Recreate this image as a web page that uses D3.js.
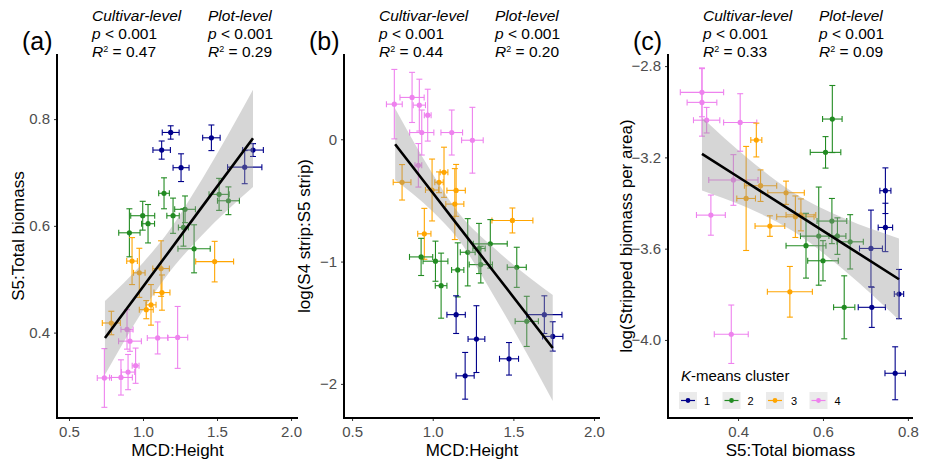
<!DOCTYPE html>
<html>
<head>
<meta charset="utf-8">
<script src="https://cdn.jsdelivr.net/npm/d3@7"></script>
<style>
  body { margin: 0; background: #fff; }
  svg { font-family: "Liberation Sans", Arial, sans-serif; }
</style>
</head>
<body>
<svg id="chart" width="931" height="460"></svg>
<script>
// cluster colours (K-means cluster 1..4)
var clusterColors = ["#00008B", "#228B22", "#FFA500", "#EE82EE"];
var clusterLabels = ["1", "2", "3", "4"];

// points: [cluster, x, xErr, y, yErr]
var pointsA = [
	[1, 1.187, 0.057, 0.775, 0.0125], [1, 1.462, 0.059, 0.765, 0.024], [1, 1.126, 0.059, 0.742, 0.017],
	[1, 1.257, 0.054, 0.709, 0.026], [1, 1.743, 0.070, 0.742, 0.012], [1, 1.687, 0.116, 0.710, 0.031],
	[2, 1.142, 0.036, 0.661, 0.029], [2, 0.908, 0.072, 0.587, 0.045], [2, 0.998, 0.081, 0.619, 0.027],
	[2, 1.034, 0.044, 0.604, 0.036], [2, 1.203, 0.042, 0.619, 0.033], [2, 1.284, 0.070, 0.631, 0.025],
	[2, 1.273, 0.034, 0.597, 0.035], [2, 1.345, 0.109, 0.557, 0.045], [2, 1.514, 0.068, 0.659, 0.030],
	[2, 1.577, 0.074, 0.647, 0.026],
	[3, 0.926, 0.036, 0.534, 0.044], [3, 0.975, 0.039, 0.512, 0.046], [3, 1.122, 0.056, 0.520, 0.052],
	[3, 1.128, 0.054, 0.475, 0.033], [3, 1.054, 0.034, 0.452, 0.038], [3, 1.022, 0.047, 0.443, 0.017],
	[3, 1.484, 0.128, 0.533, 0.038], [3, 0.786, 0.061, 0.418, 0.022],
	[4, 0.892, 0.041, 0.406, 0.037], [4, 0.912, 0.077, 0.384, 0.019], [4, 1.099, 0.070, 0.390, 0.030],
	[4, 1.234, 0.068, 0.391, 0.058], [4, 0.950, 0.023, 0.338, 0.033], [4, 0.899, 0.045, 0.326, 0.033],
	[4, 0.851, 0.077, 0.316, 0.033], [4, 0.739, 0.048, 0.315, 0.055]
];
var pointsB = [
	[4, 0.762, 0.049, 0.287, 0.284], [4, 0.872, 0.075, 0.342, 0.205], [4, 0.917, 0.038, 0.279, 0.212],
	[4, 0.969, 0.021, 0.197, 0.212], [4, 0.932, 0.075, 0.055, 0.184], [4, 1.118, 0.067, 0.055, 0.184],
	[4, 1.246, 0.067, -0.008, 0.269], [4, 0.911, 0.021, -0.213, 0.178],
	[3, 0.810, 0.055, -0.352, 0.145], [3, 1.039, 0.026, -0.352, 0.085], [3, 1.070, 0.024, -0.270, 0.205],
	[3, 0.996, 0.041, -0.415, 0.253], [3, 1.145, 0.057, -0.418, 0.212], [3, 1.137, 0.056, -0.530, 0.290],
	[3, 0.948, 0.041, -0.773, 0.208], [3, 1.494, 0.127, -0.664, 0.102],
	[2, 0.928, 0.072, -0.962, 0.152], [2, 1.017, 0.077, -0.997, 0.164], [2, 1.052, 0.036, -1.197, 0.266],
	[2, 1.155, 0.038, -1.068, 0.221], [2, 1.217, 0.046, -0.924, 0.275], [2, 1.287, 0.038, -0.893, 0.205],
	[2, 1.298, 0.072, -1.025, 0.150], [2, 1.357, 0.105, -0.855, 0.198], [2, 1.521, 0.059, -1.047, 0.164],
	[2, 1.583, 0.072, -1.489, 0.205],
	[1, 1.145, 0.057, -1.434, 0.154], [1, 1.271, 0.052, -1.634, 0.273], [1, 1.201, 0.056, -1.934, 0.191],
	[1, 1.473, 0.059, -1.795, 0.133], [1, 1.692, 0.109, -1.434, 0.154], [1, 1.744, 0.063, -1.612, 0.120]
];
var pointsC = [
	[4, 0.315, 0.051, -2.915, 0.107], [4, 0.315, 0.035, -2.959, 0.148], [4, 0.326, 0.031, -3.037, 0.056],
	[4, 0.405, 0.039, -3.047, 0.126], [4, 0.389, 0.058, -3.299, 0.111], [4, 0.336, 0.034, -3.453, 0.088],
	[4, 0.384, 0.040, -3.975, 0.128],
	[3, 0.443, 0.013, -3.124, 0.074], [3, 0.419, 0.022, -3.380, 0.228], [3, 0.453, 0.038, -3.324, 0.069],
	[3, 0.513, 0.043, -3.355, 0.051], [3, 0.535, 0.044, -3.460, 0.091], [3, 0.548, 0.035, -3.452, 0.070],
	[3, 0.475, 0.035, -3.501, 0.045], [3, 0.522, 0.053, -3.789, 0.111],
	[2, 0.622, 0.023, -3.032, 0.147], [2, 0.606, 0.036, -3.178, 0.069], [2, 0.621, 0.035, -3.479, 0.099],
	[2, 0.590, 0.043, -3.545, 0.215], [2, 0.634, 0.020, -3.545, 0.080], [2, 0.664, 0.031, -3.570, 0.119],
	[2, 0.560, 0.047, -3.587, 0.142], [2, 0.600, 0.036, -3.653, 0.088], [2, 0.650, 0.025, -3.857, 0.138],
	[1, 0.747, 0.013, -3.346, 0.100], [1, 0.747, 0.017, -3.507, 0.106], [1, 0.713, 0.027, -3.599, 0.168],
	[1, 0.715, 0.032, -3.857, 0.088], [1, 0.779, 0.011, -3.799, 0.108], [1, 0.770, 0.024, -4.146, 0.116]
];

// fitted line and confidence band: [x, fit, lower, upper]
var fitA = [[0.743, 0.390, 0.321, 0.459], [1.0, 0.486, 0.442, 0.531], [1.15, 0.542, 0.503, 0.581],
	[1.4, 0.636, 0.583, 0.688], [1.743, 0.764, 0.673, 0.855]];
var fitB = [[0.767, -0.041, -0.333, 0.251], [1.0, -0.438, -0.591, -0.285], [1.15, -0.694, -0.804, -0.584],
	[1.4, -1.120, -1.328, -0.912], [1.744, -1.707, -2.140, -1.274]];
var fitC = [[0.315, -3.185, -3.345, -3.025], [0.42, -3.309, -3.419, -3.199], [0.53, -3.439, -3.524, -3.354],
	[0.65, -3.581, -3.695, -3.467], [0.779, -3.734, -3.913, -3.555]];

var xTicksA = [0.5, 1.0, 1.5, 2.0], yTicksA = [0.4, 0.6, 0.8];
var xTicksB = [0.5, 1.0, 1.5, 2.0], yTicksB = [-2, -1, 0];
var xTicksC = [0.4, 0.6, 0.8], yTicksC = [-4.0, -3.6, -3.2, -2.8];

var statsA = ["0.47", "0.29"], statsB = ["0.44", "0.20"], statsC = ["0.33", "0.09"];

var panels = [
	{tag: "(a)", pts: pointsA, fit: fitA, stats: statsA, xt: xTicksA, yt: yTicksA,
		xFmt: d3.format(".1f"), yFmt: d3.format(".1f"),
		xDom: [0.419, 2.047], yDom: [0.240, 0.922], left: 57, right: 298,
		xTitle: "MCD:Height", yTitle: "S5:Total biomass", yTitleX: 18},
	{tag: "(b)", pts: pointsB, fit: fitB, stats: statsB, xt: xTicksB, yt: yTicksB,
		xFmt: d3.format(".1f"), yFmt: function(d) { return d < 0 ? "\u2212" + Math.abs(d) : "" + d; },
		xDom: [0.450, 2.037], yDom: [-2.279, 0.697], left: 344, right: 600,
		xTitle: "MCD:Height", yTitle: "log(S4 strip:S5 strip)", yTitleX: 304},
	{tag: "(c)", pts: pointsC, fit: fitC, stats: statsC, xt: xTicksC, yt: yTicksC,
		xFmt: d3.format(".1f"), yFmt: function(d) { return "\u2212" + Math.abs(d).toFixed(1); },
		xDom: [0.235, 0.812], yDom: [-4.342, -2.747], left: 668, right: 913,
		xTitle: "S5:Total biomass", yTitle: "log(Stripped biomass per area)", yTitleX: 626, legend: true}
];

var plotTop = 54, plotBottom = 418;
var svg = d3.select("#chart");

panels.forEach(function(p) {
	var x = d3.scaleLinear().domain(p.xDom).range([p.left, p.right]);
	var y = d3.scaleLinear().domain(p.yDom).range([plotBottom, plotTop]);
	var g = svg.append("g");

	// axes
	var xAxis = g.append("g")
		.attr("transform", "translate(0," + plotBottom + ")")
		.call(d3.axisBottom(x).tickValues(p.xt).tickFormat(p.xFmt).tickSize(3).tickPadding(5));
	var yAxis = g.append("g")
		.attr("transform", "translate(" + p.left + ",0)")
		.call(d3.axisLeft(y).tickValues(p.yt).tickFormat(p.yFmt).tickSize(3).tickPadding(4));
	[xAxis, yAxis].forEach(function(a) {
		a.select(".domain").remove();
		a.selectAll(".tick line").attr("stroke", "#333").attr("stroke-width", 1);
		a.selectAll(".tick text").attr("fill", "#4d4d4d").style("font-size", "15px")
			.style("font-family", "Liberation Sans, Arial, sans-serif");
	});
	g.append("line").attr("x1", p.left).attr("x2", p.right).attr("y1", plotBottom).attr("y2", plotBottom)
		.attr("stroke", "#000").attr("stroke-width", 2);
	g.append("line").attr("x1", p.left).attr("x2", p.left).attr("y1", plotTop).attr("y2", plotBottom + 1)
		.attr("stroke", "#000").attr("stroke-width", 2);

	// error bars + points
	var pts = g.append("g");
	p.pts.forEach(function(d) {
		var col = clusterColors[d[0] - 1];
		var cx = x(d[1]), cy = y(d[3]);
		var x0 = x(d[1] - d[2]), x1 = x(d[1] + d[2]);
		var y0 = y(d[3] - d[4]), y1 = y(d[3] + d[4]);
		var e = pts.append("g").attr("stroke", col).attr("stroke-width", 1.1).attr("fill", "none");
		e.append("line").attr("x1", x0).attr("x2", x1).attr("y1", cy).attr("y2", cy);
		e.append("line").attr("x1", x0).attr("x2", x0).attr("y1", cy - 3).attr("y2", cy + 3);
		e.append("line").attr("x1", x1).attr("x2", x1).attr("y1", cy - 3).attr("y2", cy + 3);
		e.append("line").attr("x1", cx).attr("x2", cx).attr("y1", y0).attr("y2", y1);
		e.append("line").attr("x1", cx - 3).attr("x2", cx + 3).attr("y1", y0).attr("y2", y0);
		e.append("line").attr("x1", cx - 3).attr("x2", cx + 3).attr("y1", y1).attr("y2", y1);
		pts.append("circle").attr("cx", cx).attr("cy", cy).attr("r", 2.6).attr("fill", col);
	});

	// confidence band, then fit line
	g.append("path").datum(p.fit)
		.attr("fill", "#999999").attr("fill-opacity", 0.4)
		.attr("d", d3.area().curve(d3.curveMonotoneX)
			.x(function(d) { return x(d[0]); })
			.y0(function(d) { return y(d[2]); })
			.y1(function(d) { return y(d[3]); }));
	g.append("path").datum(p.fit)
		.attr("fill", "none").attr("stroke", "#000").attr("stroke-width", 2.6)
		.attr("d", d3.line().x(function(d) { return x(d[0]); }).y(function(d) { return y(d[1]); }));

	// titles
	g.append("text").attr("x", (p.left + p.right) / 2).attr("y", 456).attr("text-anchor", "middle")
		.style("font-size", "17px").text(p.xTitle);
	g.append("text").attr("transform", "translate(" + p.yTitleX + "," + ((plotTop + plotBottom) / 2) + ") rotate(-90)")
		.attr("text-anchor", "middle").attr("dy", "0.35em").style("font-size", "17px").text(p.yTitle);

	// panel tag + stats
	g.append("text").attr("x", p.left - 35).attr("y", 50).style("font-size", "25px").text(p.tag);
	var cols = [{lab: "Cultivar-level", dx: 35, r2: p.stats[0]}, {lab: "Plot-level", dx: 151, r2: p.stats[1]}];
	cols.forEach(function(c) {
		var tx = p.left + c.dx;
		g.append("text").attr("x", tx).attr("y", 21).style("font-size", "15.5px")
			.style("font-style", "italic").text(c.lab);
		var t2 = g.append("text").attr("x", tx).attr("y", 39).style("font-size", "15.5px");
		t2.append("tspan").style("font-style", "italic").text("p");
		t2.append("tspan").text(" < 0.001");
		var t3 = g.append("text").attr("x", tx).attr("y", 57).style("font-size", "15.5px");
		t3.append("tspan").style("font-style", "italic").text("R");
		t3.append("tspan").attr("dy", -5).style("font-size", "9px").text("2");
		t3.append("tspan").attr("dy", 5).text(" = " + c.r2);
	});

	if (p.legend) {
		var lg = g.append("g");
		var lt = lg.append("text").attr("x", 681).attr("y", 381).style("font-size", "15px");
		lt.append("tspan").style("font-style", "italic").text("K");
		lt.append("tspan").text("-means cluster");
		clusterColors.forEach(function(col, i) {
			var kx = 679 + i * 43.5;
			lg.append("rect").attr("x", kx).attr("y", 392).attr("width", 18).attr("height", 17).attr("fill", "#ebebeb");
			lg.append("line").attr("x1", kx + 2).attr("x2", kx + 16).attr("y1", 400.5).attr("y2", 400.5)
				.attr("stroke", col).attr("stroke-width", 1.2);
			lg.append("circle").attr("cx", kx + 9).attr("cy", 400.5).attr("r", 2.4).attr("fill", col);
			lg.append("text").attr("x", kx + 28).attr("y", 404.5).attr("text-anchor", "middle")
				.style("font-size", "11px").text(clusterLabels[i]);
		});
	}
});
</script>
</body>
</html>
